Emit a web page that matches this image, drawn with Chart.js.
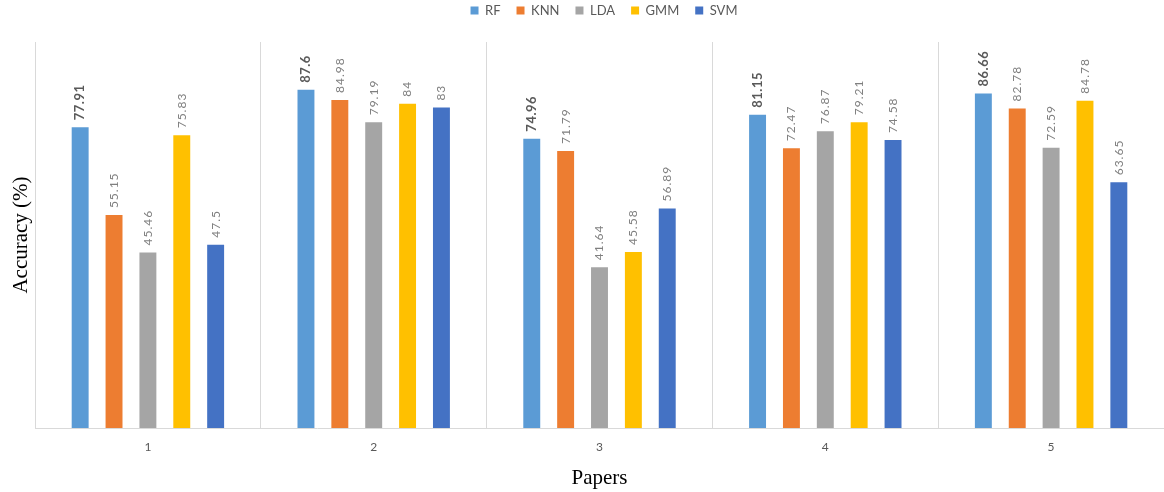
<!DOCTYPE html>
<html>
<head>
<meta charset="utf-8">
<script src="https://cdn.jsdelivr.net/npm/chart.js"></script>
<style>
    html, body { margin: 0; padding: 0; background: #fff; }
    #wrap { width: 1164px; height: 492px; }
</style>
</head>
<body>
<div id="wrap"><canvas id="accuracyChart" width="1164" height="492"></canvas></div>
<script>
// Data
const papers = ['1', '2', '3', '4', '5'];
const methods = ['RF', 'KNN', 'LDA', 'GMM', 'SVM'];
const rfValues  = [77.91, 87.6, 74.96, 81.15, 86.66];
const knnValues = [55.15, 84.98, 71.79, 72.47, 82.78];
const ldaValues = [45.46, 79.19, 41.64, 76.87, 72.59];
const gmmValues = [75.83, 84, 45.58, 79.21, 84.78];
const svmValues = [47.5, 83, 56.89, 74.58, 63.65];

const seriesValues = [rfValues, knnValues, ldaValues, gmmValues, svmValues];
const seriesColors = ['#5B9BD5', '#ED7D31', '#A5A5A5', '#FFC000', '#4472C4'];
const gridColor = '#d9d9d9';
const textColor = '#595959';

// vertical value labels above each bar (RF labels in bold)
const barLabels = {
    id: 'barLabels',
    afterDatasetsDraw(chart) {
        const ctx = chart.ctx;
        chart.data.datasets.forEach((ds, i) => {
            const meta = chart.getDatasetMeta(i);
            const bold = i === 0;
            meta.data.forEach((bar, j) => {
                ctx.save();
                ctx.translate(bar.x, bar.y - 7);
                ctx.rotate(-Math.PI / 2);
                ctx.font = (bold ? 'bold 13px' : '12px') + ' Lato';
                ctx.letterSpacing = bold ? '0.5px' : '1px';
                ctx.fillStyle = bold ? '#595959' : '#7f7f7f';
                ctx.textAlign = 'left';
                ctx.textBaseline = 'middle';
                ctx.fillText(String(ds.data[j]), 0, 0);
                ctx.restore();
            });
        });
    }
};

// more room under the legend, and legend sits a bit right of centre
const legendGap = {
    id: 'legendGap',
    beforeLayout(chart) {
        const lg = chart.legend;
        if (lg && !lg._gapPatched) {
            const fit = lg.fit.bind(lg);
            const draw = lg.draw.bind(lg);
            lg.fit = function () {
                fit();
                this.height += 15;
            };
            lg.draw = function (area) {
                chart.ctx.save();
                chart.ctx.translate(22, 0);
                draw(area);
                chart.ctx.restore();
            };
            lg._gapPatched = true;
        }
    }
};

const ctx = document.getElementById('accuracyChart').getContext('2d');
new Chart(ctx, {
    type: 'bar',
    data: {
        labels: papers,
        datasets: methods.map((name, i) => ({
            label: name,
            data: seriesValues[i],
            backgroundColor: seriesColors[i],
            borderWidth: 0,
            categoryPercentage: 0.75,
            barPercentage: 0.5
        }))
    },
    options: {
        responsive: false,
        animation: false,
        layout: { padding: { top: -12, left: 0, right: 0, bottom: 0 } },
        plugins: {
            legend: {
                position: 'top',
                labels: {
                    boxWidth: 8,
                    boxHeight: 8,
                    padding: 16,
                    color: textColor,
                    font: { family: 'Lato', size: 13 }
                }
            },
            tooltip: { enabled: false }
        },
        scales: {
            x: {
                afterFit: s => { s.height = 64; },
                grid: { color: gridColor, drawTicks: false, offset: true },
                border: { color: gridColor },
                ticks: { color: textColor, padding: 12, font: { family: 'Lato', size: 12 } },
                title: {
                    display: true,
                    text: 'Papers',
                    color: '#000',
                    padding: { top: 0, bottom: 1 },
                    font: { family: 'Liberation Serif', size: 21 }
                }
            },
            y: {
                min: 0,
                max: 100,
                afterFit: s => { s.width = 35; },
                grid: { display: false },
                border: { color: gridColor },
                ticks: { display: false },
                title: {
                    display: true,
                    text: 'Accuracy (%)',
                    color: '#000',
                    padding: { top: 9, bottom: 0 },
                    font: { family: 'Liberation Serif', size: 21 }
                }
            }
        }
    },
    plugins: [barLabels, legendGap]
});
</script>
</body>
</html>
